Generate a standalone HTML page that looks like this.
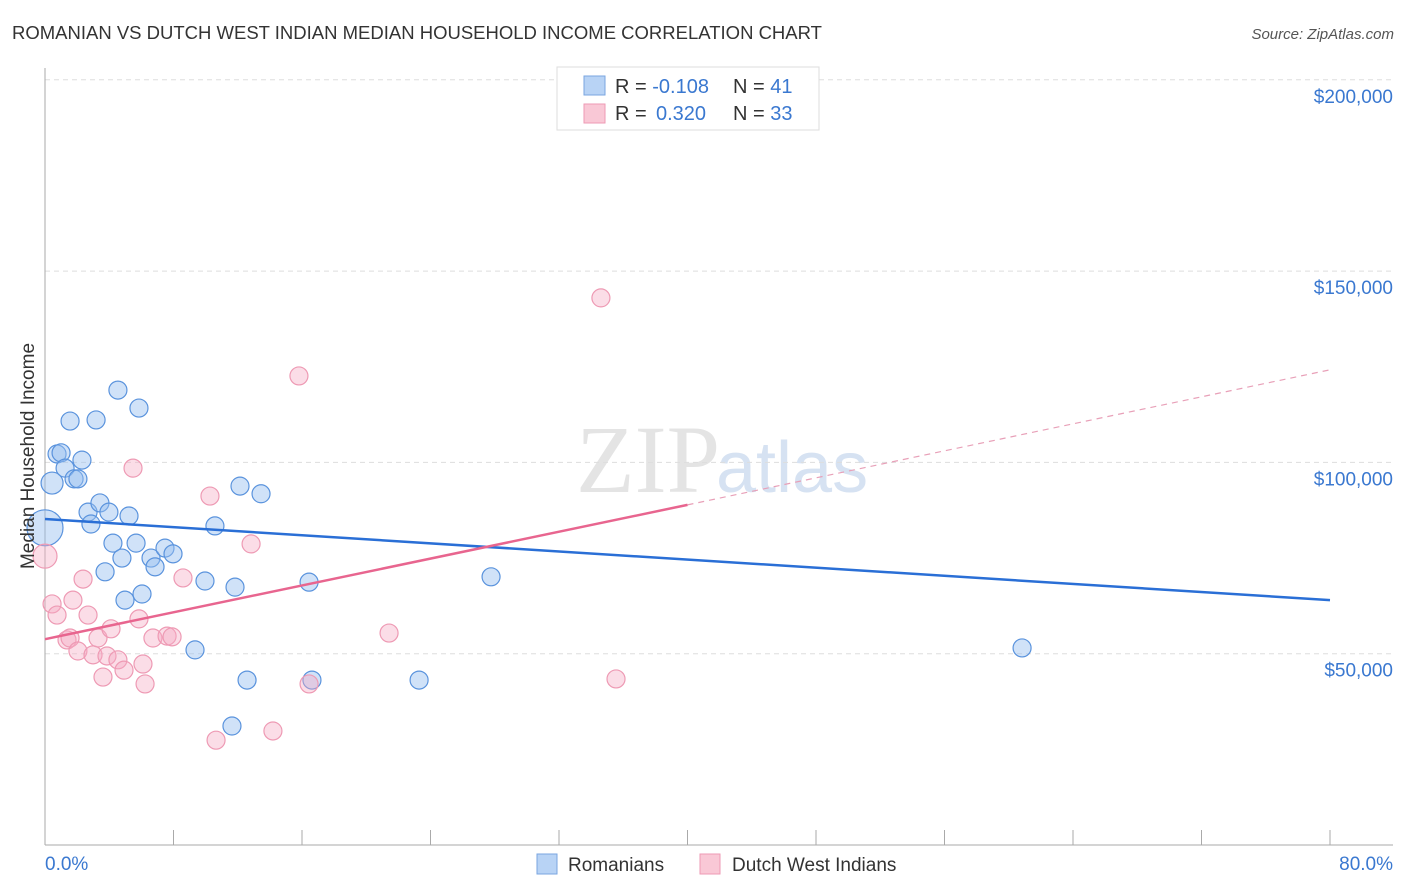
<!DOCTYPE html>
<html><head><meta charset="utf-8"><style>
body{margin:0;background:#fff;font-family:"Liberation Sans",sans-serif}
svg{display:block}
</style></head><body>
<svg width="1406" height="892" id="chart">
<text x="12" y="39" font-size="18.5" fill="#333">ROMANIAN VS DUTCH WEST INDIAN MEDIAN HOUSEHOLD INCOME CORRELATION CHART</text>
<text x="1394" y="39" font-size="15" fill="#555" font-style="italic" text-anchor="end">Source: ZipAtlas.com</text>
<text x="720" y="492" font-size="96" fill="#e4e4e4" text-anchor="end" font-family="Liberation Serif,serif">ZIP</text>
<text x="716" y="492" font-size="72" fill="#d6e2f2">atlas</text>
<g id="grid"></g><g id="axes"></g><g id="pts"></g><g id="lines"></g>
<text transform="translate(34,456) rotate(-90)" font-size="19" fill="#333" text-anchor="middle">Median Household Income</text>
<text x="45" y="870" font-size="19" fill="#3a78d0">0.0%</text>
<text x="1393" y="870" font-size="19" fill="#3a78d0" text-anchor="end">80.0%</text>
<g>
<rect x="557" y="67" width="262" height="63" fill="#fff" stroke="#ddd"/>
<rect x="584" y="76" width="21" height="19" fill="#b8d3f5" stroke="#7aa6e0"/>
<rect x="584" y="104" width="21" height="19" fill="#f9c8d6" stroke="#ee9ab4"/>
<text x="615" y="93" font-size="20" fill="#333">R = <tspan fill="#3a78d0">-0.108</tspan><tspan x="733">N = </tspan><tspan fill="#3a78d0">41</tspan></text>
<text x="615" y="120" font-size="20" fill="#333">R = <tspan x="656" fill="#3a78d0">0.320</tspan><tspan x="733">N = </tspan><tspan fill="#3a78d0">33</tspan></text>
</g>
<g>
<rect x="537" y="854" width="20" height="20" fill="#b8d3f5" stroke="#7aa6e0"/>
<text x="568" y="871" font-size="19" fill="#333">Romanians</text>
<rect x="700" y="854" width="20" height="20" fill="#f9c8d6" stroke="#ee9ab4"/>
<text x="732" y="871" font-size="19" fill="#333">Dutch West Indians</text>
</g>
</svg>
<script>
const yTicks=[50000,100000,150000,200000];
const yTickLabels=["$50,000","$100,000","$150,000","$200,000"];
const xTicks=[0,8,16,24,32,40,48,56,64,72,80];
const blueX=[0,0.44,0.75,1.0,1.25,1.56,1.81,2.05,2.3,2.68,2.86,3.18,3.42,3.74,3.98,4.23,4.54,4.79,4.98,5.23,5.67,5.85,6.04,6.6,6.85,7.47,7.97,9.34,9.96,10.58,11.83,12.14,12.58,11.64,13.45,16.44,16.62,23.29,27.77,35.49,60.83];
const blueY=[82900,94600,102200,102500,98500,110800,95700,95700,100600,87000,83900,111100,89400,71400,87000,78900,118900,75000,64000,86000,78900,114200,65600,75000,72700,77600,76100,51000,69000,83400,67400,93800,43100,31100,91800,68700,43100,43100,70100,197900,51500];
const pinkX=[0,0.44,0.75,1.37,1.56,2.05,2.37,2.68,2.99,3.3,3.61,3.86,4.11,4.54,4.92,5.48,5.85,6.1,6.23,6.72,7.6,7.91,8.59,10.27,10.65,12.83,14.19,15.81,16.44,21.42,34.61,35.55,1.74];
const pinkY=[75500,63000,60100,53600,54100,50700,69500,60100,49700,54100,43900,49400,56500,48400,45700,98500,59100,47300,42100,54100,54600,54400,69800,91200,27400,78700,29800,122600,42100,55400,143000,43400,64000];
const blueTrend=[85200,64000];
const pinkTrend=[53800,88900,124200];
const NS="http://www.w3.org/2000/svg";
const sx=v=>45+v/80*1285;
const sy=v=>845-v/50000*191.3;
function mk(tag,attrs,parent){const e=document.createElementNS(NS,tag);for(const k in attrs)e.setAttribute(k,attrs[k]);document.getElementById(parent).appendChild(e);return e;}
yTicks.forEach((t,i)=>{
 const l=mk('line',{x1:45,x2:1393,y1:sy(t),y2:sy(t),stroke:'#ddd','stroke-dasharray':'5,4'},'grid');
 
 
 const tx=mk('text',{x:1393,y:sy(t)+23,'font-size':19,fill:'#3a78d0','text-anchor':'end'},'grid');
 tx.textContent=yTickLabels[i];
 
 
});
mk('line',{x1:1393,x2:1393,y1:0,y2:0},'grid');
const ax=mk('line',{x1:45,x2:1393,y1:845,y2:845,stroke:'#aaa'},'axes');


const ay=mk('line',{x1:45,x2:45,y1:68,y2:845,stroke:'#aaa'},'axes');


xTicks.forEach(t=>{
 const l=mk('line',{x1:sx(t),x2:sx(t),y1:830,y2:845,stroke:'#aaa'},'axes');
 
 
});
blueX.forEach((x,i)=>{
 const c=mk('circle',{cx:sx(x),cy:sy(blueY[i]),r:i===0?18:(i===1?11:9),fill:'rgba(150,190,240,0.45)',stroke:'#5a93dd','stroke-width':1.2},'pts');
 
 
});
pinkX.forEach((x,i)=>{
 const c=mk('circle',{cx:sx(x),cy:sy(pinkY[i]),r:i===0?12:9,fill:'rgba(245,170,195,0.4)',stroke:'#ee9ab4','stroke-width':1.2},'pts');
 
 
});
const bl=mk('line',{x1:sx(0),y1:sy(blueTrend[0]),x2:sx(80),y2:sy(blueTrend[1]),stroke:'#2a6fd6','stroke-width':2.5},'lines');


const pl=mk('line',{x1:sx(0),y1:sy(pinkTrend[0]),x2:sx(40),y2:sy(pinkTrend[1]),stroke:'#e8658f','stroke-width':2.5},'lines');


const pd=mk('line',{x1:sx(40),y1:sy(pinkTrend[1]),x2:sx(80),y2:sy(pinkTrend[2]),stroke:'#e8a0b8','stroke-width':1.2,'stroke-dasharray':'6,5'},'lines');


</script>
</body></html>
